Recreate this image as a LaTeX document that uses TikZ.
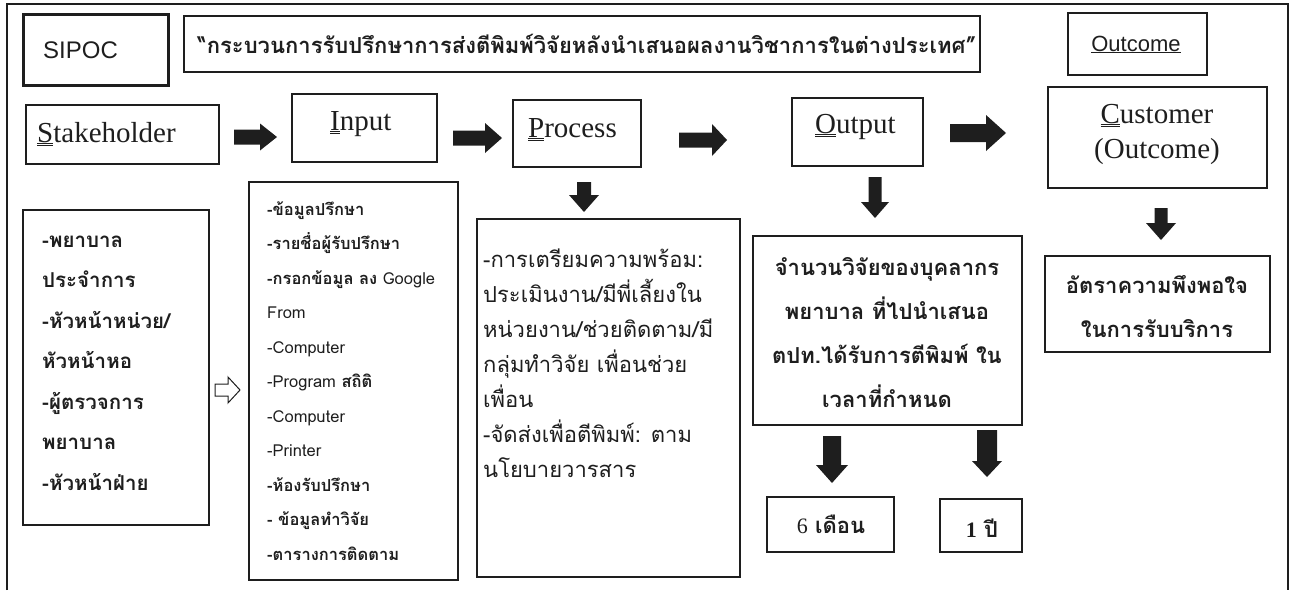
\documentclass[tikz,border=0pt]{standalone}
\usepackage{fontspec}
\setmainfont{Liberation Serif}
\newfontfamily\thai[Script=Thai]{Loma}
\newfontfamily\sanslat{Liberation Sans}
\newcommand\fs[2]{\fontsize{#1}{#2}\selectfont}
\newcommand\dul[1]{\underline{\underline{#1}}}
\definecolor{ink}{HTML}{1E1E1E}
\newcommand\boxat[5]{\node[box, minimum width={#4-#2}, minimum height={#5-#3}] (#1) at ({(#2+#4)/2},{(#3+#5)/2}) {};}
\tikzset{
  box/.style={draw=ink, line width=1.3pt, inner sep=0pt, fill=white},
  pics/rblk/.style n args={4}{code={
    \fill[ink] (0,-#2/2) -- (#1-#4,-#2/2) -- (#1-#4,-#3/2) -- (#1,0) -- (#1-#4,#3/2) -- (#1-#4,#2/2) -- (0,#2/2) -- cycle;}},
  pics/dblk/.style n args={4}{code={
    \fill[ink] (-#2/2,0) -- (-#2/2,#1-#4) -- (-#3/2,#1-#4) -- (0,#1) -- (#3/2,#1-#4) -- (#2/2,#1-#4) -- (#2/2,0) -- cycle;}},
  lbl/.style={inner sep=0pt, text=ink},
}
\begin{document}
\begin{tikzpicture}[x=1pt,y=-1pt]
\useasboundingbox (0,0) rectangle (1291,590);
% outer frame
\draw[ink, line width=1.6pt] (7,590) -- (7,4) -- (1288,4) -- (1288,590);

% header boxes
\boxat{sipoc}{24}{15}{168}{85}
\draw[ink, line width=2.6pt] (sipoc.north west) rectangle (sipoc.south east);
\node[lbl, font=\sanslat\fs{24}{24}, anchor=base west] (sipoctxt) at (43,58) {SIPOC};
\boxat{title}{184}{16}{980}{72}
\node[lbl, font=\thai\bfseries\fs{22}{22}, anchor=base] (titletxt) at (587,53) {“กระบวนการรับปรึกษาการส่งตีพิมพ์วิจัยหลังนำเสนอผลงานวิชาการในต่างประเทศ”};
\boxat{outcome}{1068}{13}{1207}{75}
\node[lbl, font=\sanslat\fs{22}{22}, anchor=base] (outcometxt) at (1136,51) {\underline{Outcome}};

% SIPOC row
\boxat{stake}{26}{105}{219}{164}
\node[lbl, font=\fs{29}{29}, anchor=base west] (staketxt) at (37,142) {\dul{S}takeholder};
\boxat{input}{292}{94}{437}{162}
\node[lbl, font=\fs{29}{29}, anchor=base west] (inputtxt) at (330,130) {\dul{I}nput};
\boxat{process}{513}{100}{641}{167}
\node[lbl, font=\fs{29}{29}, anchor=base west] (processtxt) at (528,137) {\dul{P}rocess};
\boxat{output}{792}{98}{923}{166}
\node[lbl, font=\fs{29}{29}, anchor=base west] (outputtxt) at (815,133) {\dul{O}utput};
\boxat{customer}{1048}{87}{1267}{188}
\node[lbl, font=\fs{29}{35}, anchor=base, align=center] (customertxt) at (1157,158) {\dul{C}ustomer\\(Outcome)};

% block arrows, row
\path (234,137) pic {rblk={43}{15}{27}{17}};
\path (453,138) pic {rblk={49}{15}{30}{17}};
\path (679,140) pic {rblk={48}{15}{32}{15}};
\path (950,133) pic {rblk={56}{18}{36}{20}};
% block arrows, down
\path (584,182) pic {dblk={30}{14}{30}{17}};
\path (875,177) pic {dblk={41}{13}{28}{16}};
\path (1161,208) pic {dblk={32}{13}{30}{17}};
\path (832,436) pic {dblk={47}{18}{32}{18}};
\path (987,430) pic {dblk={47}{20}{30}{16}};

% detail boxes
\boxat{stakelist}{23}{210}{209}{525}
\node[lbl, font=\thai\bfseries\fs{20.5}{40.5}, anchor=base west, align=left] (stakelisttxt) at (42,490)
  {-พยาบาล\\ประจำการ\\-หัวหน้าหน่วย/\\หัวหน้าหอ\\-ผู้ตรวจการ\\พยาบาล\\-หัวหน้าฝ่าย};
\draw[ink, fill=white, line width=1pt] (215,384) -- (228,384) -- (228,377) -- (240,390) -- (228,403) -- (228,396) -- (215,396) -- cycle;
\boxat{inputlist}{249}{182}{458}{580}
\node[lbl, font=\thai\fs{16.5}{34.5}, anchor=base west, align=left] (inputlisttxt) at (267,560)
  {\bfseries -ข้อมูลปรึกษา\\\bfseries -รายชื่อผู้รับปรึกษา\\\bfseries -กรอกข้อมูล ลง \mdseries Google\\From\\-Computer\\-Program \bfseries สถิติ\\-Computer\\-Printer\\\bfseries -ห้องรับปรึกษา\\\bfseries - ข้อมูลทำวิจัย\\\bfseries -ตารางการติดตาม};
\boxat{proclist}{477}{219}{740}{577}
\node[lbl, font=\thai\fs{22}{35}, anchor=base west, align=left] (proclisttxt) at (483,477)
  {-การเตรียมความพร้อม:\\ประเมินงาน/มีพี่เลี้ยงใน\\หน่วยงาน/ช่วยติดตาม/มี\\กลุ่มทำวิจัย เพื่อนช่วย\\เพื่อน\\-จัดส่งเพื่อตีพิมพ์: ตาม\\นโยบายวารสาร};
\boxat{outlist}{753}{236}{1022}{425}
\node[lbl, font=\thai\bfseries\fs{22}{44}, anchor=base, align=center] (outlisttxt) at (887,407)
  {จำนวนวิจัยของบุคลากร\\พยาบาล ที่ไปนำเสนอ\\ตปท.ได้รับการตีพิมพ์ ใน\\เวลาที่กำหนด};
\boxat{result}{1045}{256}{1270}{352}
\node[lbl, font=\thai\bfseries\fs{22}{44}, anchor=base, align=center] (resulttxt) at (1157,337)
  {อัตราความพึงพอใจ\\ในการรับบริการ};
\boxat{six}{767}{497}{894}{552}
\node[lbl, font=\thai\bfseries\fs{22}{22}, anchor=base] (sixtxt) at (831,533) {{\rmfamily\mdseries 6} เดือน};
\boxat{one}{940}{499}{1022}{552}
\node[lbl, font=\thai\bfseries\fs{22}{22}, anchor=base] (onetxt) at (982,537) {{\rmfamily 1} ปี};
\end{tikzpicture}
\end{document}
